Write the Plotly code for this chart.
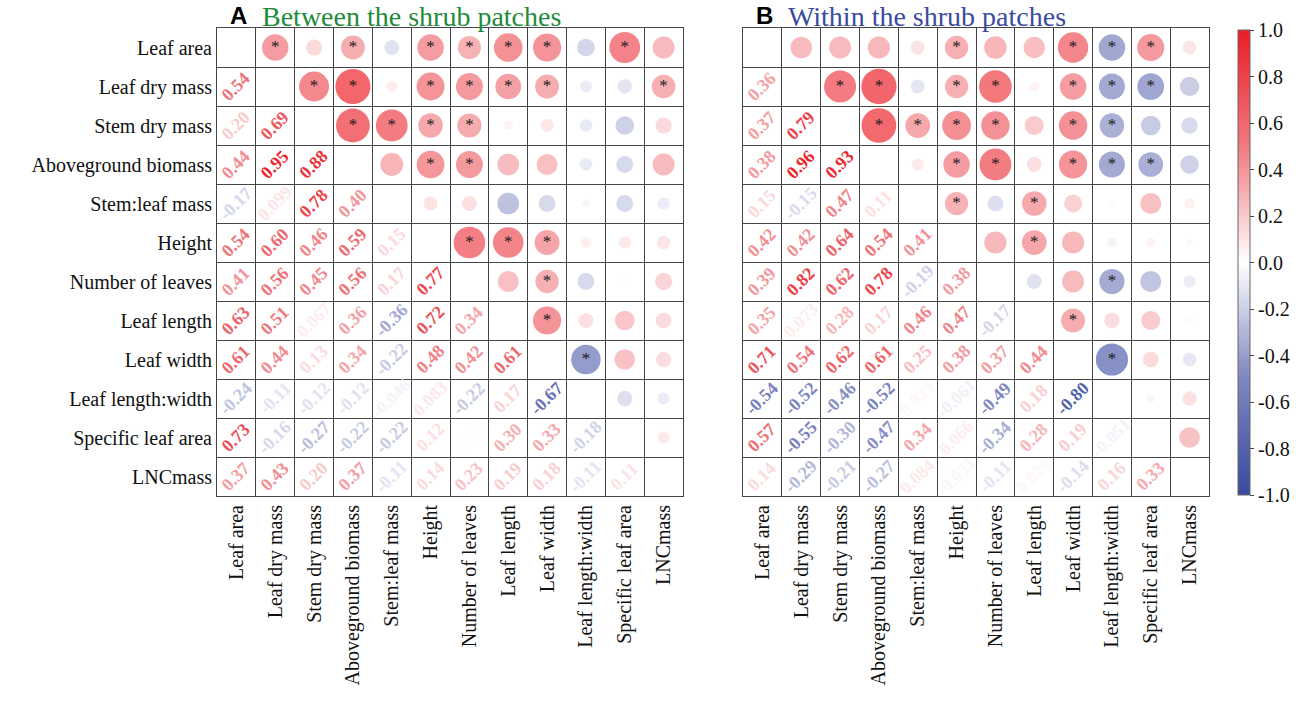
import plotly.graph_objects as go
from plotly.colors import sample_colorscale

labels = ["Leaf area", "Leaf dry mass", "Stem dry mass", "Aboveground biomass",
          "Stem:leaf mass", "Height", "Number of leaves", "Leaf length",
          "Leaf width", "Leaf length:width", "Specific leaf area", "LNCmass"]

# lower-triangle correlations (row i, columns 0..i-1)
corr_A = [
    [0.54],
    [0.20, 0.69],
    [0.44, 0.95, 0.88],
    [-0.17, 0.099, 0.78, 0.40],
    [0.54, 0.60, 0.46, 0.59, 0.15],
    [0.41, 0.56, 0.45, 0.56, 0.17, 0.77],
    [0.63, 0.51, 0.067, 0.36, -0.36, 0.72, 0.34],
    [0.61, 0.44, 0.13, 0.34, -0.22, 0.48, 0.42, 0.61],
    [-0.24, -0.11, -0.12, -0.12, -0.046, 0.083, -0.22, 0.17, -0.67],
    [0.73, -0.16, -0.27, -0.22, -0.22, 0.12, 0.012, 0.30, 0.33, -0.18],
    [0.37, 0.43, 0.20, 0.37, -0.11, 0.14, 0.23, 0.19, 0.18, -0.11, 0.11],
]
corr_B = [
    [0.36],
    [0.37, 0.79],
    [0.38, 0.96, 0.93],
    [0.15, -0.15, 0.47, 0.11],
    [0.42, 0.42, 0.64, 0.54, 0.41],
    [0.39, 0.82, 0.62, 0.78, -0.19, 0.38],
    [0.35, 0.073, 0.28, 0.17, 0.46, 0.47, -0.17],
    [0.71, 0.54, 0.62, 0.61, 0.25, 0.38, 0.37, 0.44],
    [-0.54, -0.52, -0.46, -0.52, 0.029, -0.061, -0.49, 0.18, -0.80],
    [0.57, -0.55, -0.30, -0.47, 0.34, 0.066, -0.34, 0.28, 0.19, -0.051],
    [0.14, -0.29, -0.21, -0.27, 0.084, -0.031, -0.11, 0.028, -0.14, 0.16, 0.33],
]
# significant pairs (row, col) shown in the upper triangle with '*'
sig_A = {0: [1, 3, 5, 6, 7, 8, 10], 1: [2, 3, 5, 6, 7, 8, 11], 2: [3, 4, 5, 6],
         3: [5, 6], 5: [6, 7, 8], 6: [8], 7: [8], 8: [9]}
sig_B = {0: [5, 8, 9, 10], 1: [2, 3, 5, 6, 8, 9, 10], 2: [3, 4, 5, 6, 8, 9],
         3: [5, 6, 8, 9, 10], 4: [5, 7], 5: [7], 6: [9], 7: [8], 8: [9]}

colorscale = [[0.0, "#3A4B9F"], [0.25, "#7D86C0"], [0.5, "#FFFFFF"],
              [0.75, "#F07A80"], [1.0, "#EC1C24"]]
colorbar_ticks = [-1.0, -0.8, -0.6, -0.4, -0.2, 0.0, 0.2, 0.4, 0.6, 0.8, 1.0]

W, H = 1299, 710
n = len(labels)


def px_x(x):
    return x / W


def px_y(y):
    return 1 - y / H


panels = [
    dict(corr=corr_A, sig=sig_A, x0=217, x1=683, xa="x", ya="y", xn="xaxis", yn="yaxis",
         letter="A", title="Between the shrub patches", tcolor="#1E8B3A"),
    dict(corr=corr_B, sig=sig_B, x0=743, x1=1209, xa="x2", ya="y2", xn="xaxis2", yn="yaxis2",
         letter="B", title="Within the shrub patches", tcolor="#3A4B9F"),
]
ytop, ybot = 28, 496
serif = "Liberation Serif"


def fmt(r):
    if abs(r) >= 0.1:
        return f"{r:.2f}"
    if abs(r) >= 0.01:
        return f"{r:.2g}"
    return f"{r:.3f}"


fig = go.Figure()
annotations = []
layout = {}
for k, p in enumerate(panels):
    cx, cy, cv, sx, sy = [], [], [], [], []
    for i in range(1, n):
        for j in range(i):
            r = p["corr"][i - 1][j]
            cx.append(i); cy.append(j); cv.append(r)
            if i in p["sig"].get(j, []):
                sx.append(i); sy.append(j)
            col = sample_colorscale(colorscale, [(r + 1) / 2])[0]
            annotations.append(dict(x=j, y=i, xref=p["xa"], yref=p["ya"], text=f"<b>{fmt(r)}</b>",
                                    showarrow=False, textangle=-45,
                                    font=dict(family=serif, size=18, color=col)))
    sizes = [36 * abs(v) ** 0.5 for v in cv]
    fig.add_trace(go.Scatter(
        x=cx, y=cy, mode="markers", xaxis=p["xa"], yaxis=p["ya"], hoverinfo="skip",
        marker=dict(size=sizes, color=cv, colorscale=colorscale, cmin=-1, cmax=1,
                    line=dict(width=0),
                    showscale=(k == 0),
                    colorbar=dict(x=px_x(1238), xanchor="left", y=px_y(495), yanchor="bottom",
                                  len=(495 - 30) / H, lenmode="fraction", thickness=12,
                                  xpad=0, ypad=0,
                                  tickvals=colorbar_ticks, ticktext=[f"{t:.1f}" for t in colorbar_ticks],
                                  ticks="outside", ticklen=4, tickcolor="#444",
                                  outlinewidth=1, outlinecolor="#666",
                                  tickfont=dict(family=serif, size=20, color="#111"))),
        showlegend=False))
    fig.add_trace(go.Scatter(
        x=sx, y=sy, mode="text", text=["*"] * len(sx), xaxis=p["xa"], yaxis=p["ya"],
        textposition="middle center",
        textfont=dict(family=serif, size=17, color="#1a1a1a"), hoverinfo="skip", showlegend=False))

    grid = [g + 0.5 for g in range(-1, n)]
    layout[p["xn"]] = dict(domain=[px_x(p["x0"]), px_x(p["x1"])], range=[-0.5, n - 0.5],
                           tickvals=list(range(n)), ticktext=labels, tickangle=-90,
                           tickfont=dict(family=serif, size=20, color="#111"),
                           showgrid=False, zeroline=False, showline=True, mirror=True,
                           linecolor="#444", linewidth=1, anchor=p["ya"], ticks="",
                           minor=dict(tickvals=grid, showgrid=True, gridcolor="#444", gridwidth=1),
                           fixedrange=True)
    layout[p["yn"]] = dict(domain=[px_y(ybot), px_y(ytop)], range=[n - 0.5, -0.5],
                           tickvals=list(range(n)), ticktext=labels if k == 0 else [""] * n,
                           showticklabels=(k == 0),
                           tickfont=dict(family=serif, size=20, color="#111"),
                           showgrid=False, zeroline=False, showline=True, mirror=True,
                           linecolor="#444", linewidth=1, anchor=p["xa"], ticks="",
                           minor=dict(tickvals=grid, showgrid=True, gridcolor="#444", gridwidth=1),
                           fixedrange=True)
    annotations.append(dict(x=px_x(p["x0"] + 12), y=1, xref="paper", yref="paper",
                            text=f"<b>{p['letter']}</b>", showarrow=False, xanchor="left",
                            yanchor="top", borderpad=0, yshift=-1,
                            font=dict(family="Liberation Sans", size=24, color="#000")))
    annotations.append(dict(x=px_x(p["x0"] + 44), y=1, xref="paper", yref="paper",
                            text=p["title"], showarrow=False, xanchor="left",
                            yanchor="top", borderpad=0,
                            font=dict(family=serif, size=28, color=p["tcolor"])))

fig.update_layout(width=W, height=H, margin=dict(l=0, r=0, t=0, b=0),
                  plot_bgcolor="white", paper_bgcolor="white",
                  annotations=annotations, **layout)
fig.write_html("out.html", config={"displayModeBar": False},
               post_script="document.body.style.margin='0px';document.body.style.overflow='hidden';")
